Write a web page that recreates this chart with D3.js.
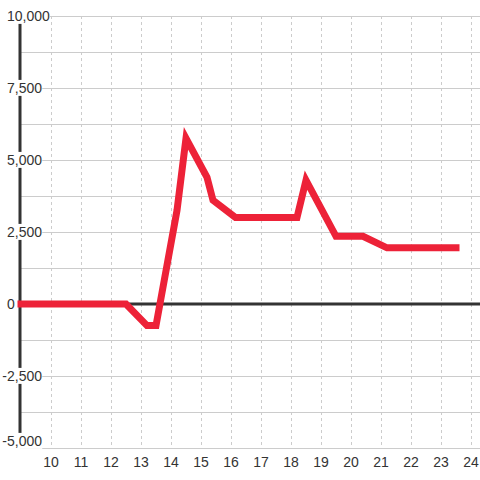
<!DOCTYPE html>
<html>
<head>
<meta charset="utf-8">
<script src="https://cdn.jsdelivr.net/npm/d3@7/dist/d3.min.js"></script>
<style>
  html, body { margin: 0; padding: 0; background: #fff; }
  svg { display: block; }
  text { font-family: "Liberation Sans", Arial, sans-serif; }
</style>
</head>
<body>
<svg id="chart" width="480" height="480"></svg>
<script>
const xTicks = [10, 11, 12, 13, 14, 15, 16, 17, 18, 19, 20, 21, 22, 23, 24];
const yTicks = [-5000, -2500, 0, 2500, 5000, 7500, 10000];
const yMinorTicks = [-3750, -1250, 1250, 3750, 6250, 8750];
const xValues = [9, 12.5, 13.2, 13.5, 14.2, 14.5, 15.2, 15.4, 16.15, 18.2, 18.5, 19.5, 20.4, 21.2, 23.5];
const yValues = [0, 0, -750, -750, 3250, 5750, 4400, 3600, 3000, 3000, 4300, 2350, 2350, 1950, 1950];

const svg = d3.select("#chart");
const x = d3.scaleLinear().domain([9, 24]).range([21, 471]);
const y = d3.scaleLinear().domain([-5000, 10000]).range([448, 16]);
const fmt = d3.formatLocale({decimal: ".", thousands: ",", grouping: [3], currency: ["", ""], minus: "-"}).format(",");

// horizontal gridlines
svg.append("g").selectAll("line").data(yTicks.concat(yMinorTicks)).join("line")
  .attr("x1", 20).attr("x2", 480)
  .attr("y1", d => y(d) + 0.5).attr("y2", d => y(d) + 0.5)
  .attr("stroke", "#cccccc").attr("stroke-width", 1);

// vertical dotted gridlines
svg.append("g").selectAll("line").data(xTicks).join("line")
  .attr("x1", d => x(d) + 0.5).attr("x2", d => x(d) + 0.5)
  .attr("y1", y(10000)).attr("y2", y(-5000))
  .attr("stroke", "#cccccc").attr("stroke-width", 1)
  .attr("stroke-dasharray", "3,3");

// zero baseline
svg.append("line")
  .attr("x1", 20).attr("x2", 480)
  .attr("y1", y(0)).attr("y2", y(0))
  .attr("stroke", "#333").attr("stroke-width", 3);

// y axis line
svg.append("line")
  .attr("x1", 20).attr("x2", 20)
  .attr("y1", y(10000)).attr("y2", y(-5000))
  .attr("stroke", "#333").attr("stroke-width", 3);

// data line
const line = d3.line().x(d => x(d[0])).y(d => y(d[1]));
svg.append("path")
  .datum(xValues.map((v, i) => [v, yValues[i]]))
  .attr("d", line)
  .attr("fill", "none")
  .attr("stroke", "#ed2238")
  .attr("stroke-width", 7)
  .attr("stroke-linecap", "square")
  .attr("stroke-linejoin", "miter");

// y labels with white background
const yl = svg.append("g");
yTicks.forEach(v => {
  const g = yl.append("g");
  const t = g.append("text")
    .attr("x", 7)
    .attr("y", v === -5000 ? y(v) - 7 : y(v))
    .attr("dy", "0.35em")
    .attr("font-size", 14)
    .attr("fill", "#333")
    .text(fmt(v));
  if (v < 0) {
    const m = svg.append("text").attr("font-size", 14).text("-");
    const w = m.node().getComputedTextLength();
    m.remove();
    t.attr("x", 7 - w);
  }
  const b = t.node().getBBox();
  g.insert("rect", "text")
    .attr("x", b.x).attr("y", b.y)
    .attr("width", b.width).attr("height", b.height)
    .attr("fill", "#fff");
});

// x labels
svg.append("g").selectAll("text").data(xTicks).join("text")
  .attr("x", d => x(d))
  .attr("y", 467)
  .attr("text-anchor", "middle")
  .attr("font-size", 14)
  .attr("fill", "#333")
  .text(d => d);
</script>
</body>
</html>
